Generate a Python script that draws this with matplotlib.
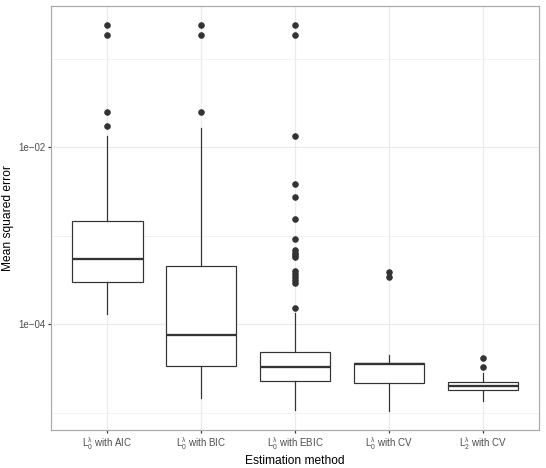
import matplotlib
matplotlib.use("Agg")
import matplotlib.pyplot as plt
import numpy as np

plt.rcParams['font.family'] = ['Liberation Sans', 'DejaVu Sans']
plt.rcParams['mathtext.fontset'] = 'custom'
plt.rcParams['mathtext.rm'] = 'Liberation Sans'
plt.rcParams['axes.unicode_minus'] = True

# values (mean squared error)
methods = [r'$\mathregular{L_0^\lambda}$ with AIC', r'$\mathregular{L_0^\lambda}$ with BIC',
           r'$\mathregular{L_0^\lambda}$ with EBIC', r'$\mathregular{L_0^\lambda}$ with CV',
           r'$\mathregular{L_2^\lambda}$ with CV']
whislo = [1.31e-4, 1.49e-5, 1.07e-5, 1.06e-5, 1.37e-5]
q1 = [3.05e-4, 3.4e-5, 2.28e-5, 2.20e-5, 1.82e-5]
med = [5.5e-4, 7.6e-5, 3.31e-5, 3.55e-5, 2.02e-5]
q3 = [1.48e-3, 4.6e-4, 4.85e-5, 3.70e-5, 2.24e-5]
whishi = [1.36e-2, 1.67e-2, 1.35e-4, 4.49e-5, 2.80e-5]
fliers_aic = [0.242, 0.185, 0.0252, 0.0175]
fliers_bic = [0.242, 0.185, 0.0252]
fliers_ebic = [0.242, 0.185, 0.0134, 3.87e-3, 2.76e-3, 1.57e-3, 9.25e-4, 6.95e-4,
               6.5e-4, 6.1e-4, 5.8e-4, 4.06e-4, 3.72e-4, 3.47e-4, 3.18e-4, 2.92e-4, 1.52e-4]
fliers_cv = [3.95e-4, 3.41e-4]
fliers_l2 = [4.18e-5, 3.33e-5]
fliers = [fliers_aic, fliers_bic, fliers_ebic, fliers_cv, fliers_l2]

stats = []
for i in range(len(methods)):
    stats.append(dict(med=med[i], q1=q1[i], q3=q3[i], whislo=whislo[i],
                      whishi=whishi[i], fliers=fliers[i], label=methods[i]))

dark = '#333333'
lw = 1.2
fig = plt.figure(figsize=(546 / 72, 468 / 72), dpi=72)
ax = fig.add_axes([51 / 546, 1 - 430 / 468, 488 / 546, (430 - 5.7) / 468])

ax.set_yscale('log')
allv = np.log10(np.concatenate([whislo, whishi] + [np.array(f) for f in fliers]))
lo, hi = allv.min(), allv.max()
pad = 0.05 * (hi - lo)
ax.set_ylim(10 ** (lo - pad), 10 ** (hi + pad))
ax.set_xlim(0.4, len(methods) + 0.6)

ax.bxp(stats, positions=range(1, len(methods) + 1), widths=0.75, patch_artist=True,
       showcaps=False,
       boxprops=dict(facecolor='white', edgecolor=dark, linewidth=lw),
       whiskerprops=dict(color=dark, linewidth=lw),
       medianprops=dict(color=dark, linewidth=2.3),
       flierprops=dict(marker='o', markerfacecolor=dark, markeredgecolor=dark,
                       markersize=5.5, linestyle='none'),
       zorder=3)

ax.set_yticks([1e-4, 1e-2])
ax.set_yticklabels(['1e\u221204', '1e\u221202'])
ax.set_yticks([1e-5, 1e-3, 1e-1], minor=True)
ax.yaxis.set_minor_formatter(matplotlib.ticker.NullFormatter())
ax.set_xticks(range(1, len(methods) + 1))
ax.set_xticklabels(methods)

ax.grid(which='major', color='#EBEBEB', linewidth=lw, zorder=0)
ax.grid(which='minor', axis='y', color='#EBEBEB', linewidth=0.6, zorder=0)
ax.set_axisbelow(True)
ax.tick_params(which='major', length=3, width=lw, color=dark,
               labelcolor='#4D4D4D', labelsize=9.7, pad=2.4)
ax.tick_params(which='minor', length=0)
for s in ax.spines.values():
    s.set_color('#AAAAAA')
    s.set_linewidth(lw)

ax.set_xlabel('Estimation method', fontsize=12, labelpad=3)
ax.set_ylabel('Mean squared error', fontsize=12, labelpad=4)

fig.savefig('out.png', dpi=72)
